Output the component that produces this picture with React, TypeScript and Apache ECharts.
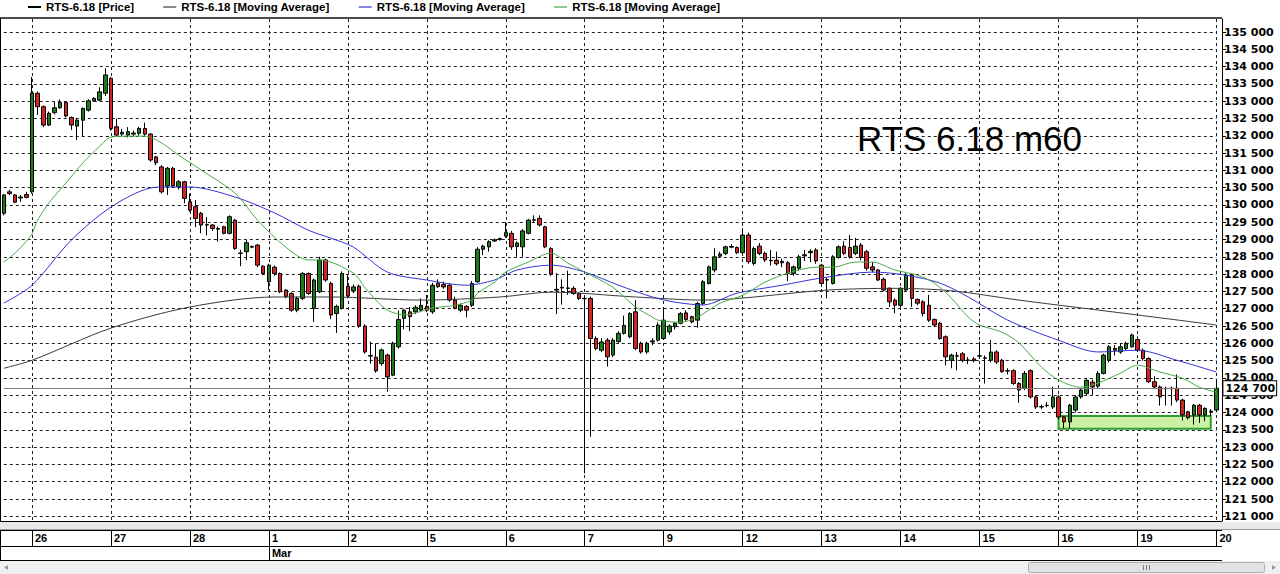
import React, { useEffect, useRef } from 'react';
import * as echarts from 'echarts';

// ---- OHLC data: [open, close, low, high] per hourly bar ----
const feb22 = [
  [129760, 130290, 129700, 130320],
  [130380, 130330, 130280, 130440],
  [130290, 130080, 130050, 130320],
  [130200, 130230, 130090, 130290],
  [130300, 130220, 130190, 130380],
];
const feb26 = [
  [130380, 133240, 130330, 133700],
  [133230, 132840, 132600, 133280],
  [132840, 132310, 132250, 132880],
  [132310, 132650, 132280, 132700],
  [132670, 132810, 132620, 132980],
  [132810, 132960, 132780, 133050],
  [132960, 132570, 132530, 132990],
  [132530, 132310, 132170, 132560],
  [132280, 132450, 131880, 132520],
  [132450, 132790, 131970, 132820],
  [132740, 133010, 132700, 133060],
  [133010, 133080, 132990, 133120],
  [133030, 133270, 133000, 133400],
  [133230, 133760, 133150, 133950],
];
const feb27 = [
  [133660, 132210, 132150, 133700],
  [132260, 132020, 131980, 132500],
  [132050, 132100, 131980, 132200],
  [132020, 132120, 131950, 132250],
  [132080, 132050, 131980, 132150],
  [132070, 132210, 132000, 132260],
  [132210, 132050, 132000, 132380],
  [132050, 131300, 131250, 132080],
  [131390, 131220, 131150, 131420],
  [131100, 130380, 130330, 131150],
  [130550, 131060, 130290, 131100],
  [131060, 130550, 130500, 131100],
  [130530, 130670, 130450, 130720],
  [130670, 130190, 130050, 130700],
];
const feb28 = [
  [130090, 129850, 129800, 130330],
  [129950, 129610, 129360, 130140],
  [129760, 129420, 129180, 129800],
  [129420, 129430, 129120, 129650],
  [129420, 129320, 129250, 129450],
  [129300, 129320, 128940, 129380],
  [129370, 129180, 129150, 129400],
  [129180, 129660, 129150, 129700],
  [129560, 128740, 128700, 129600],
  [128600, 128610, 128230, 128700],
  [128650, 128910, 128400, 128990],
  [128800, 128780, 128750, 128830],
  [128840, 128260, 128200, 128870],
  [128230, 128020, 127980, 128260],
];
const mar01 = [
  [127780, 128260, 127540, 128300],
  [128200, 128020, 127950, 128250],
  [128020, 127490, 127450, 128050],
  [127540, 127350, 127300, 127560],
  [127440, 126960, 126910, 127480],
  [126960, 127300, 126900, 127350],
  [127300, 128020, 127250, 128060],
  [128020, 127440, 127400, 128050],
  [127010, 127830, 126620, 127870],
  [127490, 128410, 127450, 128500],
  [128410, 127830, 127780, 128450],
  [127730, 126820, 126700, 127780],
  [126860, 127070, 126300, 127120],
  [127010, 128020, 126980, 128080],
];
const mar02 = [
  [127650, 127370, 127300, 128000],
  [127520, 127630, 127450, 127700],
  [127650, 126500, 126450, 127700],
  [126500, 125750, 125700, 126550],
  [125650, 125630, 125410, 126050],
  [125600, 125200, 125150, 126000],
  [125420, 125810, 125350, 125850],
  [125660, 125030, 124600, 125700],
  [125080, 126000, 125050, 126050],
  [125900, 126690, 125850, 126950],
  [126720, 126960, 126400, 127000],
  [126910, 126770, 126350, 127050],
  [126910, 127040, 126850, 127100],
  [126960, 127100, 126900, 127300],
];
const mar05 = [
  [127070, 126960, 126900, 127400],
  [126910, 127680, 126850, 127750],
  [127740, 127640, 127600, 127850],
  [127700, 127630, 127580, 127780],
  [127680, 127250, 127200, 127720],
  [127250, 127010, 126980, 127350],
  [126960, 127100, 126900, 127150],
  [127070, 126960, 126750, 127100],
  [127100, 127730, 127050, 127800],
  [127780, 128720, 127750, 128780],
  [128720, 128810, 128550, 128850],
  [128790, 128940, 128650, 128980],
  [128960, 128990, 128930, 129030],
  [129000, 129030, 128970, 129060],
];
const mar06 = [
  [129100, 129200, 129050, 129500],
  [129180, 128790, 128700, 129250],
  [128800, 128900, 128500, 128950],
  [128790, 129250, 128500, 129300],
  [129180, 129560, 129150, 129600],
  [129560, 129570, 129500, 129700],
  [129610, 129420, 129380, 129700],
  [129370, 128790, 128750, 129400],
  [128740, 128000, 127950, 128780],
  [127560, 127540, 126850, 128030],
  [127600, 127620, 127120, 127850],
  [127590, 127600, 127400, 128100],
  [127590, 127440, 127400, 127650],
  [127440, 127300, 127250, 127480],
];
const mar07 = [
  [127300, 127290, 122240, 127350],
  [127300, 126140, 123300, 127350],
  [126140, 125850, 125800, 126200],
  [125800, 126040, 125750, 126150],
  [126090, 125610, 125330, 126150],
  [125660, 126090, 125600, 126150],
  [126050, 126290, 126000, 126350],
  [126290, 126520, 126250, 126800],
  [126190, 126860, 126150, 126900],
  [126910, 125850, 125800, 127250],
  [126000, 125750, 125700, 126050],
  [125750, 126000, 125700, 126050],
  [126040, 126070, 125950, 126150],
  [126090, 126530, 126050, 126600],
];
const mar09 = [
  [126140, 126670, 126100, 127050],
  [126330, 126500, 126250, 126550],
  [126480, 126580, 126400, 126620],
  [126580, 126860, 126550, 126900],
  [126880, 126690, 126650, 126950],
  [126770, 126620, 126580, 126800],
  [126670, 127150, 126450, 127200],
  [127150, 127780, 127100, 127830],
  [127730, 128210, 127700, 128250],
  [128120, 128500, 128050, 128750],
  [128520, 128580, 128480, 128650],
  [128600, 128790, 128550, 128820],
  [128780, 128800, 128750, 128870],
  [128770, 128620, 128580, 128800],
];
const mar12 = [
  [128620, 129130, 128600, 129330],
  [129130, 128360, 128300, 129200],
  [128310, 128740, 128250, 128800],
  [128810, 128600, 128550, 128900],
  [128600, 128410, 128350, 128650],
  [128390, 128400, 128250, 128700],
  [128400, 128300, 128250, 128650],
  [128370, 128330, 128200, 128450],
  [128330, 128020, 127800, 128380],
  [128020, 128210, 127950, 128250],
  [128170, 128500, 128100, 128560],
  [128530, 128560, 128380, 128700],
  [128620, 128660, 128350, 128720],
  [128700, 128380, 128300, 128750],
];
const mar13 = [
  [128260, 127730, 127630, 128300],
  [127830, 127840, 127300, 127900],
  [127730, 128500, 127700, 128550],
  [128480, 128790, 128450, 128830],
  [128810, 128600, 128550, 128950],
  [128770, 128500, 128450, 129130],
  [128600, 128810, 128550, 129050],
  [128840, 128480, 128400, 128900],
  [128650, 128170, 128100, 128700],
  [128210, 128120, 128050, 128350],
  [128120, 127830, 127800, 128150],
  [127850, 127540, 127500, 127900],
  [127590, 127200, 127050, 127620],
  [127250, 127100, 126870, 127300],
];
const mar14 = [
  [127100, 127590, 127050, 127620],
  [127540, 127970, 127500, 128050],
  [127970, 127300, 127050, 128000],
  [127270, 127160, 127100, 127300],
  [127200, 126860, 126780, 127250],
  [127100, 126670, 126620, 127400],
  [126690, 126530, 126480, 126720],
  [126580, 126140, 126100, 126620],
  [126190, 125610, 125360, 126230],
  [125510, 125660, 125280, 125700],
  [125630, 125640, 125220, 125750],
  [125700, 125510, 125450, 125750],
  [125510, 125520, 125400, 125600],
  [125550, 125500, 125450, 125600],
];
const mar15 = [
  [125630, 125640, 125550, 126050],
  [125570, 125580, 124840, 125650],
  [125510, 125750, 125450, 126100],
  [125750, 125460, 125400, 125800],
  [125510, 125180, 125150, 125550],
  [125200, 125210, 125100, 125280],
  [125210, 124840, 124800, 125250],
  [124840, 124650, 124280, 124880],
  [124700, 125130, 124650, 125200],
  [125210, 124450, 124400, 125250],
  [124450, 124160, 124100, 124500],
  [124160, 124170, 124100, 124230],
  [124200, 124210, 124150, 124300],
  [124160, 124450, 124100, 124750],
];
const mar16 = [
  [124450, 123870, 123800, 124500],
  [123870, 123730, 123550, 123900],
  [123730, 124210, 123550, 124250],
  [124070, 124450, 124000, 124500],
  [124450, 124650, 124400, 124700],
  [124550, 124930, 124500, 125000],
  [124880, 124740, 124500, 124950],
  [124760, 125130, 124700, 125200],
  [125130, 125660, 125100, 125700],
  [125510, 125900, 125450, 125950],
  [125850, 125800, 125650, 125950],
  [125750, 125900, 125700, 126000],
  [125850, 126000, 125800, 126050],
  [125900, 126240, 125880, 126280],
];
const mar19 = [
  [126110, 125800, 125750, 126200],
  [125800, 125560, 125500, 125850],
  [125560, 124890, 124850, 125600],
  [124890, 124740, 124700, 125050],
  [124740, 124450, 124200, 124780],
  [124690, 124700, 124200, 124750],
  [124700, 124690, 124200, 124750],
  [124700, 124360, 124300, 125100],
  [124360, 123930, 123770, 124400],
  [124020, 123850, 123800, 124050],
  [123930, 124210, 123650, 124250],
  [124210, 123930, 123700, 124250],
  [123930, 124120, 123750, 124150],
  [124020, 124040, 123900, 124100],
];
const mar20 = [[124070, 124700, 124050, 124930]];

// sessions: [date label, first hour, bars]
const sessions: [string, number, number[][]][] = [
  ['22.02', 19, feb22],
  ['26.02', 10, feb26],
  ['27.02', 10, feb27],
  ['28.02', 10, feb28],
  ['01.03', 10, mar01],
  ['02.03', 10, mar02],
  ['05.03', 10, mar05],
  ['06.03', 10, mar06],
  ['07.03', 10, mar07],
  ['09.03', 10, mar09],
  ['12.03', 10, mar12],
  ['13.03', 10, mar13],
  ['14.03', 10, mar14],
  ['15.03', 10, mar15],
  ['16.03', 10, mar16],
  ['19.03', 10, mar19],
  ['20.03', 10, mar20],
];
const monthNames: Record<string, string> = { '02': 'Feb', '03': 'Mar' };

// Moving averages: [bar index, value]
const maSlow = [
  [0, 125280], [5, 125510], [19, 126440], [33, 127050], [48, 127340], [58, 127340],
  [74, 127250], [88, 127340], [97, 127480], [112, 127340], [124, 127250], [146, 127540],
  [158, 127590], [168, 127520], [180, 127250], [201, 126820], [215, 126530],
];
const maMid = [
  [0, 127160], [5, 127680], [12, 128990], [19, 129940], [26, 130490], [29, 130520],
  [33, 130520], [41, 130230], [48, 129770], [54, 129270], [58, 129040], [62, 128780],
  [68, 128060], [75, 127830], [82, 127680], [87, 127830], [91, 128120], [97, 128260],
  [103, 128060], [109, 127680], [115, 127340], [119, 127190], [124, 127110], [130, 127450],
  [138, 127680], [145, 127890], [154, 128060], [160, 127970], [166, 127740], [171, 127340],
  [178, 126670], [187, 126090], [194, 125750], [201, 125800], [208, 125510], [215, 125170],
];
const maFast = [
  [0, 128350], [2, 128610], [4, 128950], [5, 129160], [6, 129560], [8, 130060],
  [11, 130630], [14, 131210], [17, 131700], [19, 131960], [22, 131990], [25, 131990],
  [28, 131790], [31, 131440], [35, 131010], [41, 130340], [45, 129560], [50, 128780],
  [54, 128410], [56, 128410], [62, 128030], [64, 127620], [66, 127250], [68, 126960],
  [71, 126820], [76, 127020], [80, 127100], [83, 127250], [84, 127450], [87, 127770],
  [89, 128060], [93, 128350], [97, 128610], [100, 128320], [103, 128060], [108, 127620],
  [112, 127050], [115, 126760], [116, 126670], [120, 126610], [123, 126760], [127, 127160],
  [131, 127390], [135, 127770], [139, 128030], [144, 128200], [147, 128200], [151, 128350],
  [154, 128350], [158, 128120], [162, 127970], [165, 127740], [168, 127310], [171, 126760],
  [173, 126530], [177, 126320], [180, 126010], [184, 125310], [187, 124940], [191, 124730],
  [194, 124850], [198, 125140], [201, 125370], [205, 125170], [209, 124990], [212, 124730],
  [215, 124590],
];

const lastPrice = 124700;
const zone = { from: '16.03 10:00', to: '19.03 23:00', top: 123900, bottom: 123530 };
const chartTitle = 'RTS 6.18 m60';
const legendNames: Record<string, string> = {
  price: 'RTS-6.18 [Price]',
  maSlow: 'RTS-6.18 [Moving Average]',
  maMid: 'RTS-6.18 [Moving Average]',
  maFast: 'RTS-6.18 [Moving Average]',
};

// ---- build categories ----
const categories: string[] = [];
const candles: number[][] = [];
const dayStart = new Set<number>();
const monthStart = new Set<number>();
sessions.forEach(([date, h0, bars], si) => {
  bars.forEach((b, k) => {
    const idx = categories.length;
    if (k === 0 && si > 0) {
      dayStart.add(idx);
      const prevMonth = sessions[si - 1][0].slice(3);
      if (prevMonth !== date.slice(3)) monthStart.add(idx);
    }
    categories.push(`${date} ${String(h0 + k).padStart(2, '0')}:00`);
    candles.push(b);
  });
});

const fmtPrice = (v: number) => `${Math.floor(v / 1000)} ${String(v % 1000).padStart(3, '0')}`;

export default function App() {
  const ref = useRef<HTMLDivElement>(null);
  useEffect(() => {
    document.body.style.margin = '0';
    if (!ref.current) return;
    const chart = echarts.init(ref.current, undefined, { renderer: 'svg' });
    const isDay = (i: number) => dayStart.has(i);
    const isMonth = (i: number) => monthStart.has(i);
    const L = 3.8;
    const R = 63.6;
    const axisFont = { fontFamily: 'DejaVu Sans', fontWeight: 'bold' as const, fontSize: 11, color: '#000' };
    const lblFont = { fontFamily: 'Liberation Sans', fontWeight: 'bold' as const, fontSize: 11, color: '#000' };
    chart.setOption({
      animation: false,
      backgroundColor: '#ffffff',
      title: {
        text: chartTitle,
        left: 857,
        top: 121,
        padding: 0,
        textStyle: { fontFamily: 'Liberation Sans', fontSize: 35, fontWeight: 'normal', color: '#000' },
      },
      legend: {
        left: 28,
        top: 1,
        padding: 0,
        itemWidth: 13,
        itemHeight: 2,
        itemGap: 29,
        icon: 'rect',
        selectedMode: false,
        textStyle: { fontFamily: 'Liberation Sans', fontWeight: 'bold', fontSize: 11.5, color: '#000' },
        formatter: (n: string) => legendNames[n],
        data: [
          { name: 'price', itemStyle: { color: '#000', borderWidth: 0 } },
          { name: 'maSlow', itemStyle: { color: '#8c8c8c' } },
          { name: 'maMid', itemStyle: { color: '#8484ea' } },
          { name: 'maFast', itemStyle: { color: '#92c892' } },
        ],
      },
      grid: [
        { left: L, right: R, top: 32, bottom: 57.7 },
        { left: L, right: R, top: 19, bottom: 53 },
      ],
      xAxis: [
        { type: 'category', gridIndex: 0, data: categories, boundaryGap: false, show: false },
        {
          type: 'category',
          gridIndex: 1,
          data: categories,
          boundaryGap: false,
          position: 'bottom',
          axisLine: { show: true, lineStyle: { color: '#000', width: 1 } },
          axisTick: { show: true, interval: isDay, length: 25, lineStyle: { color: '#000' } },
          axisLabel: {
            show: true,
            interval: isDay,
            formatter: (v: string) => String(parseInt(v.slice(0, 2), 10)),
            align: 'left',
            margin: 11,
            padding: [0, 0, 0, 3],
            ...lblFont,
          },
          splitLine: { show: true, interval: isDay, lineStyle: { color: '#202020', width: 1, type: [3, 3] } },
        },
        {
          type: 'category',
          gridIndex: 1,
          data: categories,
          boundaryGap: false,
          position: 'bottom',
          offset: 25,
          axisLine: { show: false },
          axisTick: { show: true, interval: isMonth, length: 14, lineStyle: { color: '#000' } },
          axisLabel: {
            show: true,
            interval: isMonth,
            formatter: (v: string) => monthNames[v.slice(3, 5)],
            align: 'left',
            margin: 1,
            padding: [0, 0, 0, 3],
            ...lblFont,
          },
          splitLine: { show: false },
        },
      ],
      yAxis: [
        {
          type: 'value',
          gridIndex: 0,
          position: 'right',
          offset: 5.6,
          min: 121000,
          max: 135000,
          interval: 500,
          axisLine: { show: false },
          axisTick: { show: true, length: 4, lineStyle: { color: '#000' } },
          axisLabel: { margin: 2, formatter: (v: number) => fmtPrice(v), ...axisFont },
          splitLine: { show: true, lineStyle: { color: '#202020', width: 1, type: [3, 3] } },
        },
        {
          type: 'value',
          gridIndex: 1,
          position: 'right',
          offset: 5.6,
          min: 0,
          max: 1,
          axisLine: { show: true, lineStyle: { color: '#000', width: 1 } },
          axisTick: { show: false },
          axisLabel: { show: false },
          splitLine: { show: false },
        },
      ],
      series: [
        {
          name: 'price',
          type: 'candlestick',
          xAxisIndex: 0,
          yAxisIndex: 0,
          data: candles,
          barWidth: 4,
          clip: false,
          itemStyle: {
            color: '#1b7a1b',
            color0: '#d42323',
            borderColor: '#000',
            borderColor0: '#000',
            borderColorDoji: '#000',
            borderWidth: 1,
          },
          markArea: {
            silent: true,
            itemStyle: { color: '#cdf0a4', borderColor: '#2e9e2e', borderWidth: 2 },
            data: [[{ coord: [zone.from, zone.top] }, { coord: [zone.to, zone.bottom] }]],
          },
          markLine: {
            silent: true,
            symbol: ['none', 'none'],
            lineStyle: { color: '#7a7a7a', width: 1, type: 'solid' },
            label: {
              show: true,
              position: 'end',
              distance: 7,
              formatter: () => fmtPrice(lastPrice),
              backgroundColor: '#fff',
              borderColor: '#000',
              borderWidth: 1,
              padding: [2, 1, 1, 2],
              fontFamily: 'DejaVu Sans',
              fontWeight: 'bold',
              fontSize: 11,
              color: '#000',
            },
            data: [{ yAxis: lastPrice }],
          },
          z: 2,
        },
        {
          name: 'maSlow',
          type: 'line',
          xAxisIndex: 0,
          yAxisIndex: 0,
          data: maSlow,
          showSymbol: false,
          smooth: 0.3,
          lineStyle: { color: '#3a3a3a', width: 1 },
          itemStyle: { color: '#3a3a3a' },
          z: 3,
        },
        {
          name: 'maMid',
          type: 'line',
          xAxisIndex: 0,
          yAxisIndex: 0,
          data: maMid,
          showSymbol: false,
          smooth: 0.3,
          lineStyle: { color: '#3434d4', width: 1 },
          itemStyle: { color: '#3434d4' },
          z: 3,
        },
        {
          name: 'maFast',
          type: 'line',
          xAxisIndex: 0,
          yAxisIndex: 0,
          data: maFast,
          showSymbol: false,
          smooth: 0.3,
          lineStyle: { color: '#4aab4a', width: 1 },
          itemStyle: { color: '#4aab4a' },
          z: 3,
        },
      ],
      graphic: [
        { type: 'line', z: 100, shape: { x1: 0, y1: 18, x2: 1222, y2: 18 }, style: { stroke: '#4a4a4a', lineWidth: 2 } },
        { type: 'line', z: 100, shape: { x1: 0.5, y1: 18, x2: 0.5, y2: 560 }, style: { stroke: '#000', lineWidth: 1 } },
        { type: 'line', z: 100, shape: { x1: 0, y1: 521.5, x2: 1222, y2: 521.5 }, style: { stroke: '#000', lineWidth: 1 } },
        { type: 'rect', z: 100, shape: { x: 0, y: 522, width: 1280, height: 8 }, style: { fill: '#e9e9e9' } },
        { type: 'line', z: 101, shape: { x1: 0, y1: 529.5, x2: 1280, y2: 529.5 }, style: { stroke: '#9a9a9a', lineWidth: 1 } },
        { type: 'line', z: 101, shape: { x1: 0, y1: 530.5, x2: 1222, y2: 530.5 }, style: { stroke: '#000', lineWidth: 1 } },
        { type: 'line', z: 101, shape: { x1: 0, y1: 546.5, x2: 1222, y2: 546.5 }, style: { stroke: '#000', lineWidth: 1 } },
        { type: 'line', z: 101, shape: { x1: 0, y1: 560.5, x2: 1222, y2: 560.5 }, style: { stroke: '#000', lineWidth: 1 } },
        { type: 'rect', z: 100, shape: { x: 0, y: 561, width: 1280, height: 13 }, style: { fill: '#f0f0f0' } },
        { type: 'polygon', z: 101, shape: { points: [[4, 567.5], [8, 565], [8, 570]] }, style: { fill: '#9a9a9a' } },
        { type: 'polygon', z: 101, shape: { points: [[1276, 567.5], [1272, 565], [1272, 570]] }, style: { fill: '#9a9a9a' } },
        { type: 'rect', z: 101, shape: { x: 1028.5, y: 562.5, width: 236, height: 10, r: 2 }, style: { fill: '#e2e2e2', stroke: '#adadad', lineWidth: 1 } },
        { type: 'line', z: 102, shape: { x1: 1143.5, y1: 565, x2: 1143.5, y2: 570 }, style: { stroke: '#7a7a7a', lineWidth: 1 } },
        { type: 'line', z: 102, shape: { x1: 1146.5, y1: 565, x2: 1146.5, y2: 570 }, style: { stroke: '#7a7a7a', lineWidth: 1 } },
        { type: 'line', z: 102, shape: { x1: 1149.5, y1: 565, x2: 1149.5, y2: 570 }, style: { stroke: '#7a7a7a', lineWidth: 1 } },
      ],
    });
    return () => chart.dispose();
  }, []);
  return <div ref={ref} style={{ width: 1280, height: 574, position: 'fixed', left: 0, top: 0 }} />;
}
